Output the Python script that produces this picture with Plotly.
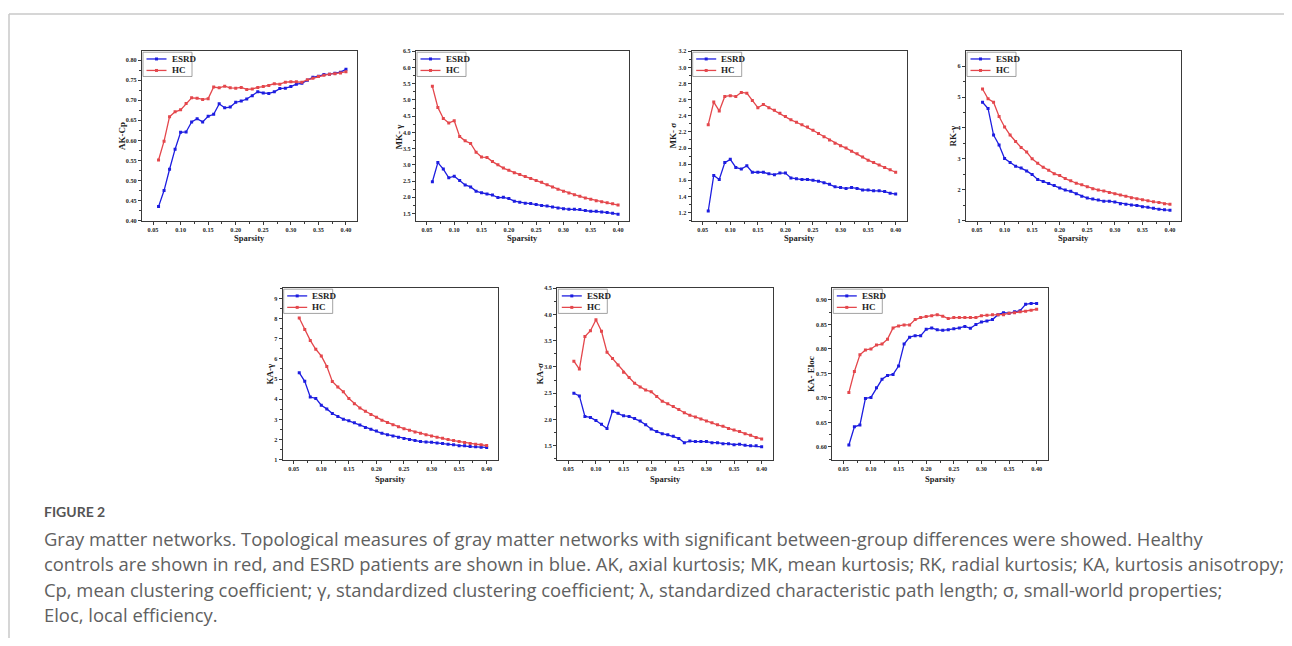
import plotly.graph_objects as go

sparsity = [0.06, 0.07, 0.08, 0.09, 0.10, 0.11, 0.12, 0.13, 0.14, 0.15,
            0.16, 0.17, 0.18, 0.19, 0.20, 0.21, 0.22, 0.23, 0.24, 0.25,
            0.26, 0.27, 0.28, 0.29, 0.30, 0.31, 0.32, 0.33, 0.34, 0.35,
            0.36, 0.37, 0.38, 0.39, 0.40]

ak_cp_esrd = [0.435, 0.475, 0.528, 0.578, 0.620, 0.621, 0.646, 0.654, 0.646, 0.660,
              0.665, 0.691, 0.681, 0.683, 0.695, 0.698, 0.703, 0.711, 0.721, 0.718,
              0.717, 0.721, 0.729, 0.730, 0.734, 0.740, 0.742, 0.750, 0.757, 0.760,
              0.764, 0.765, 0.767, 0.770, 0.777]
ak_cp_hc = [0.551, 0.598, 0.659, 0.671, 0.676, 0.692, 0.706, 0.705, 0.702, 0.704,
            0.733, 0.731, 0.735, 0.731, 0.730, 0.732, 0.727, 0.728, 0.732, 0.734,
            0.737, 0.741, 0.740, 0.745, 0.746, 0.746, 0.745, 0.751, 0.755, 0.759,
            0.762, 0.765, 0.766, 0.768, 0.771]

mk_gamma_esrd = [2.48, 3.07, 2.87, 2.60, 2.65, 2.52, 2.38, 2.32, 2.19, 2.14,
                 2.10, 2.07, 1.99, 2.00, 1.96, 1.88, 1.85, 1.82, 1.81, 1.78,
                 1.75, 1.73, 1.70, 1.67, 1.65, 1.63, 1.63, 1.62, 1.59, 1.57,
                 1.57, 1.55, 1.53, 1.51, 1.48]
mk_gamma_hc = [5.42, 4.77, 4.43, 4.29, 4.36, 3.87, 3.74, 3.66, 3.39, 3.24,
               3.23, 3.10, 3.00, 2.90, 2.83, 2.76, 2.70, 2.64, 2.58, 2.52,
               2.46, 2.39, 2.32, 2.25, 2.19, 2.13, 2.08, 2.03, 1.98, 1.94,
               1.89, 1.86, 1.83, 1.80, 1.76]

mk_sigma_esrd = [1.22, 1.66, 1.61, 1.82, 1.86, 1.76, 1.74, 1.78, 1.70, 1.70,
                 1.70, 1.68, 1.67, 1.69, 1.69, 1.63, 1.62, 1.61, 1.61, 1.60,
                 1.59, 1.57, 1.55, 1.52, 1.51, 1.50, 1.51, 1.50, 1.48, 1.48,
                 1.47, 1.47, 1.46, 1.44, 1.43]
mk_sigma_hc = [2.29, 2.57, 2.46, 2.64, 2.65, 2.64, 2.69, 2.68, 2.59, 2.50,
               2.54, 2.50, 2.47, 2.43, 2.39, 2.35, 2.32, 2.29, 2.26, 2.22,
               2.18, 2.14, 2.10, 2.06, 2.03, 2.00, 1.96, 1.93, 1.89, 1.85,
               1.82, 1.79, 1.76, 1.73, 1.70]

rk_gamma_esrd = [4.83, 4.63, 3.77, 3.45, 3.01, 2.88, 2.76, 2.70, 2.61, 2.49,
                 2.33, 2.27, 2.20, 2.14, 2.06, 1.99, 1.95, 1.87, 1.79, 1.73,
                 1.70, 1.67, 1.63, 1.63, 1.60, 1.55, 1.53, 1.51, 1.49, 1.45,
                 1.43, 1.40, 1.37, 1.35, 1.34]
rk_gamma_hc = [5.26, 4.94, 4.83, 4.37, 4.03, 3.77, 3.56, 3.37, 3.22, 3.00,
               2.86, 2.73, 2.63, 2.52, 2.46, 2.36, 2.29, 2.21, 2.16, 2.10,
               2.03, 1.99, 1.96, 1.91, 1.87, 1.83, 1.79, 1.74, 1.71, 1.68,
               1.64, 1.61, 1.59, 1.55, 1.53]

ka_gamma_esrd = [5.32, 4.89, 4.11, 4.04, 3.70, 3.52, 3.29, 3.14, 3.01, 2.93,
                 2.83, 2.72, 2.60, 2.51, 2.42, 2.31, 2.24, 2.18, 2.11, 2.05,
                 2.00, 1.95, 1.90, 1.88, 1.87, 1.83, 1.80, 1.77, 1.74, 1.69,
                 1.69, 1.65, 1.64, 1.62, 1.61]
ka_gamma_hc = [8.03, 7.46, 6.92, 6.48, 6.15, 5.63, 4.88, 4.61, 4.37, 4.03,
               3.78, 3.57, 3.40, 3.24, 3.11, 2.96, 2.85, 2.73, 2.64, 2.54,
               2.46, 2.37, 2.31, 2.24, 2.18, 2.11, 2.06, 2.00, 1.95, 1.90,
               1.85, 1.80, 1.77, 1.74, 1.70]

ka_sigma_esrd = [2.50, 2.45, 2.06, 2.04, 1.98, 1.91, 1.83, 2.16, 2.12, 2.07,
                 2.06, 2.02, 1.97, 1.90, 1.82, 1.77, 1.73, 1.71, 1.68, 1.64,
                 1.56, 1.59, 1.58, 1.58, 1.58, 1.56, 1.56, 1.54, 1.54, 1.52,
                 1.53, 1.51, 1.50, 1.50, 1.48]
ka_sigma_hc = [3.11, 2.96, 3.58, 3.69, 3.90, 3.68, 3.28, 3.16, 3.04, 2.90,
               2.80, 2.69, 2.62, 2.56, 2.53, 2.44, 2.35, 2.30, 2.25, 2.19,
               2.13, 2.08, 2.05, 2.01, 1.97, 1.94, 1.90, 1.87, 1.83, 1.80,
               1.77, 1.73, 1.70, 1.66, 1.63]

ka_eloc_esrd = [0.604, 0.641, 0.645, 0.699, 0.701, 0.721, 0.738, 0.746, 0.748, 0.765,
                0.810, 0.824, 0.827, 0.827, 0.840, 0.843, 0.839, 0.838, 0.839, 0.841,
                0.843, 0.846, 0.842, 0.850, 0.855, 0.857, 0.860, 0.870, 0.874, 0.873,
                0.876, 0.878, 0.891, 0.893, 0.893]
ka_eloc_hc = [0.711, 0.754, 0.788, 0.798, 0.800, 0.808, 0.810, 0.820, 0.843, 0.847,
              0.849, 0.849, 0.860, 0.864, 0.866, 0.868, 0.870, 0.867, 0.862, 0.864,
              0.864, 0.864, 0.864, 0.864, 0.868, 0.869, 0.870, 0.870, 0.870, 0.873,
              0.874, 0.876, 0.877, 0.879, 0.881]

x_tick_values = [0.05, 0.10, 0.15, 0.20, 0.25, 0.30, 0.35, 0.40]
x_label = "Sparsity"
group_names = ["ESRD", "HC"]

caption_head = "FIGURE 2"
caption_lines = [
    "Gray matter networks. Topological measures of gray matter networks with significant between-group differences were showed. Healthy",
    "controls are shown in red, and ESRD patients are shown in blue. AK, axial kurtosis; MK, mean kurtosis; RK, radial kurtosis; KA, kurtosis anisotropy;",
    "Cp, mean clustering coefficient; \u03b3, standardized clustering coefficient; \u03bb, standardized characteristic path length; \u03c3, small-world properties;",
    "Eloc, local efficiency.",
]

# ---------------- layout helpers (pixel -> paper) ----------------
W, H = 1276, 630
OX, OY = 8, 8


def px(X):
    return (X - OX) / W


def py(Y):
    return 1 - (Y - OY) / H


BLUE = "#1d1de0"
RED = "#e4474c"
SERIF = "Liberation Serif"
FRAME = "#3a3a3a"
TXT = "#1e1e1e"

panels = [
    dict(ytitle="AK-Cp", esrd=ak_cp_esrd, hc=ak_cp_hc, yr=[0.40, 0.822], dt=0.05, fmt=".2f",
         box=(142, 47.7, 357, 219), ytx=122),
    dict(ytitle="MK- \u03b3", esrd=mk_gamma_esrd, hc=mk_gamma_hc, yr=[1.28, 6.5], dt=0.5, fmt=".1f",
         box=(416, 47.7, 629, 219), ytx=398.5),
    dict(ytitle="MK- \u03c3", esrd=mk_sigma_esrd, hc=mk_sigma_hc, yr=[1.10, 3.2], dt=0.2, fmt=".1f",
         box=(691.7, 47.7, 906.7, 219), ytx=672.5),
    dict(ytitle="RK-\u03b3", esrd=rk_gamma_esrd, hc=rk_gamma_hc, yr=[1.0, 6.48], dt=1, fmt="d",
         box=(966, 47.7, 1181, 219), ytx=952.5),
    dict(ytitle="KA-\u03b3", esrd=ka_gamma_esrd, hc=ka_gamma_hc, yr=[1.0, 9.51], dt=1, fmt="d",
         box=(282.7, 287.3, 497.7, 460.7), ytx=269.5),
    dict(ytitle="KA-\u03c3", esrd=ka_sigma_esrd, hc=ka_sigma_hc, yr=[1.236, 4.5], dt=0.5, fmt=".1f",
         box=(557.3, 287.3, 772.7, 460.7), ytx=539.5),
    dict(ytitle="KA- Eloc", esrd=ka_eloc_esrd, hc=ka_eloc_hc, yr=[0.574, 0.924], dt=0.05, fmt=".2f",
         box=(832.3, 287.3, 1047.7, 460.7), ytx=811),
]

fig = go.Figure()
annotations = []
shapes = []
layout = dict(
    width=W, height=H, margin=dict(l=0, r=0, t=0, b=0),
    paper_bgcolor="white", plot_bgcolor="white", autosize=False, showlegend=False,
)

series_style = [(BLUE, "square"), (RED, "square")]

for i, p in enumerate(panels):
    n = i + 1
    sfx = "" if n == 1 else str(n)
    xa, ya = "x" + sfx, "y" + sfx
    x0, y0, x1, y1 = p["box"]
    for (name, vals), (col, sym) in zip([(group_names[0], p["esrd"]), (group_names[1], p["hc"])],
                                        series_style):
        fig.add_trace(go.Scatter(
            x=sparsity, y=vals, mode="lines+markers", name=name,
            line=dict(color=col, width=1.3), marker=dict(color=col, size=3, symbol=sym),
            xaxis=xa, yaxis=ya))
    common = dict(showline=True, mirror=True, linecolor=FRAME, linewidth=1.3,
                  showgrid=False, zeroline=False, ticks="outside", ticklen=3,
                  tickcolor=FRAME, tickwidth=1,
                  tickfont=dict(family=SERIF, size=6.2, color=TXT, weight="bold"))
    layout["xaxis" + sfx] = dict(
        domain=[px(x0), px(x1)], anchor=ya, range=[0.03, 0.42],
        tickvals=x_tick_values, tickformat=".2f",
        minor=dict(ticks="outside", ticklen=2, tickcolor=FRAME, dtick=0.025, tick0=0.025),
        **common)
    layout["yaxis" + sfx] = dict(
        domain=[py(y1), py(y0)], anchor=xa, range=p["yr"],
        dtick=p["dt"], tick0=0, tickformat=p["fmt"],
        minor=dict(ticks="outside", ticklen=2, tickcolor=FRAME, dtick=p["dt"] / 2),
        **common)

    # ---- legend box (top-left inside plot) ----
    lx0, ly0 = x0 + 1, y0 + 1
    lx1, ly1 = x0 + 50, y0 + 25.5
    shapes.append(dict(type="rect", xref="paper", yref="paper", layer="above",
                       x0=px(lx0), x1=px(lx1), y0=py(ly1), y1=py(ly0),
                       fillcolor="white", line=dict(color="#8a8a8a", width=0.8)))
    for k, (gname, (col, sym)) in enumerate(zip(group_names, series_style)):
        yy = ly0 + 6.8 + 11.6 * k
        shapes.append(dict(type="line", xref="paper", yref="paper", layer="above",
                           x0=px(lx0 + 3.5), x1=px(lx0 + 23.5), y0=py(yy), y1=py(yy),
                           line=dict(color=col, width=1.3)))
        shapes.append(dict(type="rect", xref="paper", yref="paper", layer="above",
                           x0=px(lx0 + 12), x1=px(lx0 + 15), y0=py(yy + 1.5), y1=py(yy - 1.5),
                           fillcolor=col, line=dict(width=0)))
        annotations.append(dict(
            x=px(lx0 + 26.5), y=py(yy), xref="paper", yref="paper", text="<b>%s</b>" % gname,
            showarrow=False, xanchor="left", yanchor="middle",
            font=dict(family=SERIF, size=9, color=TXT)))

    # y title
    annotations.append(dict(
        x=px(p["ytx"]), y=py((y0 + y1) / 2), xref="paper", yref="paper",
        text="<b>%s</b>" % p["ytitle"], textangle=-90, showarrow=False,
        font=dict(family=SERIF, size=9, color=TXT), xanchor="center", yanchor="middle"))
    # x title
    annotations.append(dict(
        x=px((x0 + x1) / 2), y=py(y1 + 18 if y1 < 300 else y1 + 20), xref="paper", yref="paper",
        text="<b>%s</b>" % x_label, showarrow=False,
        font=dict(family=SERIF, size=8.5, color=TXT), xanchor="center", yanchor="middle"))

annotations.append(dict(
    x=px(42), y=py(513), xref="paper", yref="paper", text="<b>%s</b>" % caption_head,
    showarrow=False, xanchor="left", yanchor="middle",
    font=dict(family="Lato", size=14, color="#555555")))
for k, line in enumerate(caption_lines):
    annotations.append(dict(
        x=px(42), y=py(540.5 + 25.6 * k), xref="paper", yref="paper", text=line,
        showarrow=False, xanchor="left", yanchor="middle",
        font=dict(family="Open Sans", size=18.4, color="#606060")))

shapes += [
    dict(type="line", xref="paper", yref="paper", x0=px(9), x1=px(1300), y0=py(10), y1=py(10),
         line=dict(color="#c8c8c8", width=1.5)),
    dict(type="line", xref="paper", yref="paper", x0=px(9), x1=px(9), y0=py(10), y1=py(660),
         line=dict(color="#c8c8c8", width=1.5)),
]
layout["annotations"] = annotations
layout["shapes"] = shapes
fig.update_layout(**layout)
fig.write_html("out.html")
